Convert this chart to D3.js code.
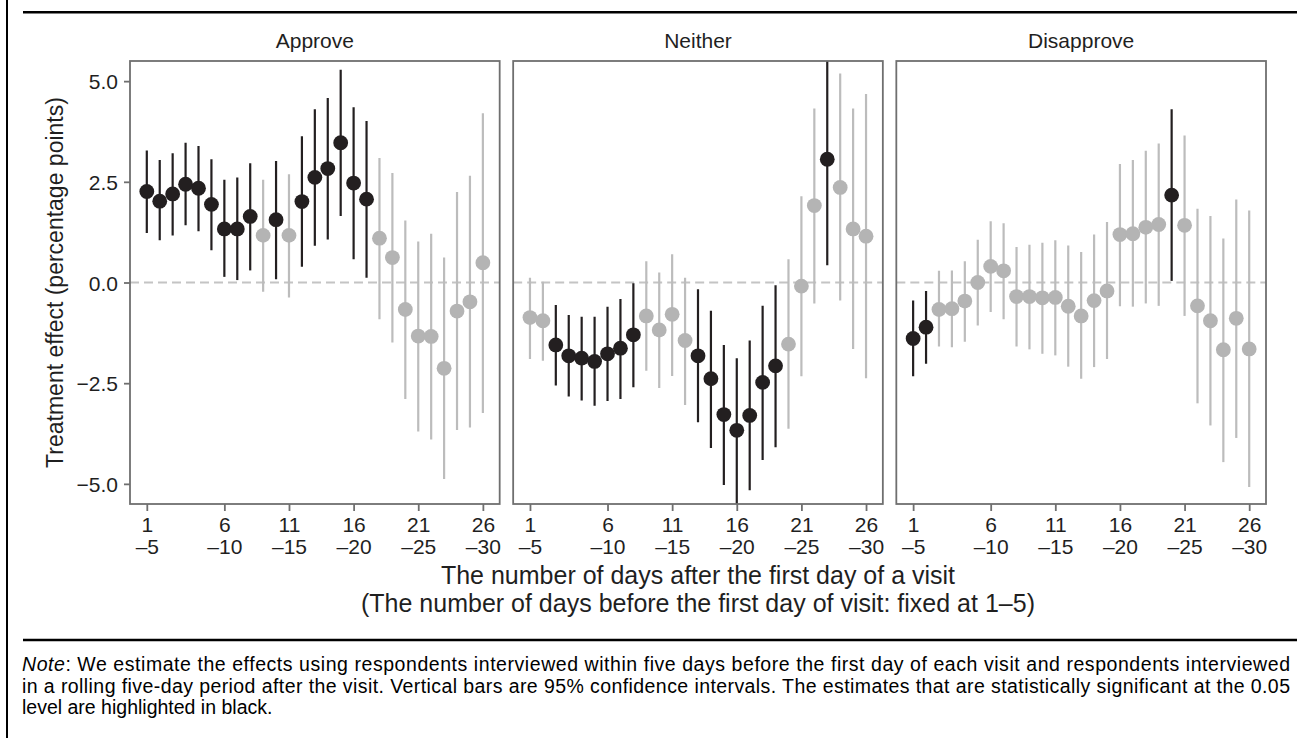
<!DOCTYPE html>
<html>
<head>
<meta charset="utf-8">
<script src="https://cdn.jsdelivr.net/npm/d3@7"></script>
<style>
  html, body { margin: 0; padding: 0; background: #ffffff; }
  svg { display: block; font-family: "Liberation Sans", Arial, Helvetica, sans-serif; }
</style>
</head>
<body>
<svg id="chart" width="1297" height="738"></svg>
<script>
// ---------- data ----------
const panels = ["Approve", "Neither", "Disapprove"];
const days = [0, 1, 2, 3, 4, 5, 6, 7, 8, 9, 10, 11, 12, 13, 14, 15, 16, 17, 18, 19, 20, 21, 22, 23, 24, 25, 26];
const tickPositions = [0, 6, 11, 16, 21, 26];
const tickTop = ["1", "6", "11", "16", "21", "26"];
const tickBottom = ["–5", "–10", "–15", "–20", "–25", "–30"];
const yTicks = [-5, -2.5, 0, 2.5, 5];

const approveEst = [2.26, 2.02, 2.20, 2.44, 2.34, 1.94, 1.33, 1.33, 1.64, 1.17, 1.56, 1.17, 2.01, 2.61, 2.83, 3.47, 2.47, 2.07, 1.10, 0.62, -0.67, -1.33, -1.34, -2.13, -0.71, -0.48, 0.49];
const approveLo  = [1.23, 1.05, 1.17, 1.42, 1.27, 0.80, 0.14, 0.06, 0.30, -0.23, 0.08, -0.37, 0.39, 0.91, 1.07, 1.65, 0.58, 0.12, -0.91, -1.49, -2.89, -3.70, -3.90, -4.88, -3.66, -3.60, -3.24];
const approveHi  = [3.28, 3.04, 3.21, 3.47, 3.39, 3.06, 2.55, 2.61, 2.96, 2.55, 3.02, 2.69, 3.63, 4.30, 4.58, 5.28, 4.35, 4.01, 3.09, 2.72, 1.54, 1.02, 1.21, 0.62, 2.25, 2.65, 4.20];
const approveSig = [1, 1, 1, 1, 1, 1, 1, 1, 1, 0, 1, 0, 1, 1, 1, 1, 1, 1, 0, 0, 0, 0, 0, 0, 0, 0, 0];

const neitherEst = [-0.87, -0.95, -1.55, -1.82, -1.88, -1.96, -1.77, -1.63, -1.30, -0.83, -1.18, -0.79, -1.44, -1.82, -2.39, -3.28, -3.67, -3.30, -2.48, -2.07, -1.53, -0.09, 1.91, 3.06, 2.36, 1.33, 1.15];
const neitherLo  = [-1.90, -1.94, -2.56, -2.83, -2.93, -3.06, -2.94, -2.89, -2.60, -2.19, -2.62, -2.32, -3.04, -3.47, -4.11, -5.03, -5.65, -5.16, -4.41, -4.09, -3.63, -2.33, -0.52, 0.43, -0.45, -1.65, -2.38];
const neitherHi  = [0.12, 0.02, -0.56, -0.81, -0.85, -0.85, -0.60, -0.41, -0.02, 0.53, 0.25, 0.70, 0.12, -0.17, -0.70, -1.55, -1.88, -1.44, -0.58, -0.07, 0.58, 2.14, 4.32, 5.70, 5.19, 4.32, 4.68];
const neitherSig = [0, 0, 1, 1, 1, 1, 1, 1, 1, 0, 0, 0, 0, 1, 1, 1, 1, 1, 1, 1, 0, 0, 0, 1, 0, 0, 0];

const disapproveEst = [-1.39, -1.11, -0.67, -0.65, -0.46, 0.00, 0.40, 0.29, -0.35, -0.35, -0.38, -0.37, -0.59, -0.83, -0.45, -0.21, 1.19, 1.21, 1.37, 1.44, 2.17, 1.42, -0.58, -0.95, -1.67, -0.89, -1.65];
const disapproveLo  = [-2.33, -2.02, -1.59, -1.61, -1.47, -1.07, -0.73, -0.91, -1.59, -1.66, -1.77, -1.81, -2.09, -2.39, -2.10, -1.90, -0.59, -0.60, -0.52, -0.58, 0.04, -0.83, -3.00, -3.55, -4.46, -3.86, -5.08];
const disapproveHi  = [-0.45, -0.21, 0.29, 0.30, 0.53, 1.06, 1.52, 1.47, 0.88, 0.94, 0.99, 1.05, 0.92, 0.76, 1.19, 1.50, 2.94, 3.04, 3.27, 3.45, 4.30, 3.65, 1.83, 1.65, 1.09, 2.06, 1.79];
const disapproveSig = [1, 1, 0, 0, 0, 0, 0, 0, 0, 0, 0, 0, 0, 0, 0, 0, 0, 0, 0, 0, 1, 0, 0, 0, 0, 0, 0];

const yTitle = "Treatment effect (percentage points)";
const xTitle1 = "The number of days after the first day of a visit";
const xTitle2 = "(The number of days before the first day of visit: fixed at 1–5)";
const noteLines = [
  ": We estimate the effects using respondents interviewed within five days before the first day of each visit and respondents interviewed",
  "in a rolling five-day period after the visit. Vertical bars are 95% confidence intervals. The estimates that are statistically significant at the 0.05",
  "level are highlighted in black."
];

// ---------- build table ----------
const series = {
  "Approve": [approveEst, approveLo, approveHi, approveSig],
  "Neither": [neitherEst, neitherLo, neitherHi, neitherSig],
  "Disapprove": [disapproveEst, disapproveLo, disapproveHi, disapproveSig]
};
const panelData = panels.map(p => ({
  name: p,
  rows: days.map((d, i) => ({ day: d, est: series[p][0][i], lo: series[p][1][i], hi: series[p][2][i], sig: series[p][3][i] }))
}));

// ---------- style ----------
const BLACK = "#231f20";
const GREY_DOT = "#b4b4b4";
const GREY_BAR = "#bcbcbc";
const BORDER = "#6f6f6f";
const TEXT = "#1f1f1f";

const svg = d3.select("#chart");

// frame lines
svg.append("line").attr("x1", 7).attr("x2", 7).attr("y1", 0).attr("y2", 738)
  .attr("stroke", "#000").attr("stroke-width", 2);
svg.append("line").attr("x1", 23).attr("x2", 1297).attr("y1", 12.3).attr("y2", 12.3)
  .attr("stroke", "#000").attr("stroke-width", 2.4);
svg.append("line").attr("x1", 23).attr("x2", 1297).attr("y1", 640).attr("y2", 640)
  .attr("stroke", "#000").attr("stroke-width", 2.4);

// scales
const panelBand = d3.scaleBand().domain(panels).range([130, 1266]).paddingInner(0.0352);
const y = d3.scaleLinear().domain([-5.5, 5.5]).range([504, 61]);

panelData.forEach((pd, pi) => {
  const x0 = panelBand(pd.name), bw = panelBand.bandwidth();
  const x = d3.scaleLinear().domain([-1.3, 27.3]).range([x0, x0 + bw]);
  const g = svg.append("g");

  const clipId = "clip" + pi;
  svg.append("clipPath").attr("id", clipId)
    .append("rect").attr("x", x0).attr("y", y(5.5)).attr("width", bw).attr("height", y(-5.5) - y(5.5));

  const plot = g.append("g").attr("clip-path", `url(#${clipId})`);

  // zero line
  plot.append("line")
    .attr("x1", x0).attr("x2", x0 + bw).attr("y1", y(0)).attr("y2", y(0))
    .attr("stroke", "#c4c4c4").attr("stroke-width", 2).attr("stroke-dasharray", "9,5");

  // error bars (grey first, black on top)
  const ordered = pd.rows.slice().sort((a, b) => a.sig - b.sig);
  plot.selectAll("line.ci").data(ordered).join("line").attr("class", "ci")
    .attr("x1", d => x(d.day)).attr("x2", d => x(d.day))
    .attr("y1", d => y(d.lo)).attr("y2", d => y(d.hi))
    .attr("stroke", d => d.sig ? BLACK : GREY_BAR).attr("stroke-width", 2.2);

  plot.selectAll("circle").data(ordered).join("circle")
    .attr("cx", d => x(d.day)).attr("cy", d => y(d.est)).attr("r", 7.4)
    .attr("fill", d => d.sig ? BLACK : GREY_DOT);

  // border
  g.append("rect").attr("x", x0).attr("y", y(5.5)).attr("width", bw).attr("height", y(-5.5) - y(5.5))
    .attr("fill", "none").attr("stroke", BORDER).attr("stroke-width", 1.8);

  // strip label
  g.append("text").attr("x", x0 + bw / 2).attr("y", 48.3).attr("text-anchor", "middle")
    .attr("font-size", 21).attr("fill", TEXT).text(pd.name);

  // x axis
  const xa = g.append("g").attr("transform", `translate(0,${y(-5.5)})`)
    .call(d3.axisBottom(x).tickValues(tickPositions).tickSize(7).tickSizeOuter(0).tickFormat(""));
  xa.select(".domain").remove();
  xa.selectAll(".tick line").attr("stroke", BORDER).attr("stroke-width", 1.8);
  xa.selectAll(".tick").each(function (d, i) {
    const t = d3.select(this).append("text").attr("fill", TEXT).attr("font-size", 21)
      .attr("text-anchor", "middle");
    t.append("tspan").attr("x", 0).attr("y", 27.7).text(tickTop[i]);
    t.append("tspan").attr("x", 0).attr("y", 50).text(tickBottom[i]);
  });

  // y axis on first panel
  if (pi === 0) {
    const ya = g.append("g").attr("transform", `translate(${x0},0)`)
      .call(d3.axisLeft(y).tickValues(yTicks).tickSize(6).tickSizeOuter(0).tickPadding(6).tickFormat(d3.format(".1f")));
    ya.select(".domain").remove();
    ya.selectAll(".tick line").attr("stroke", BORDER).attr("stroke-width", 1.8);
    ya.selectAll(".tick text").attr("font-size", 21).attr("fill", TEXT)
      .attr("font-family", "Liberation Sans, Arial, sans-serif").attr("dy", "0.36em");
  }
});

// axis titles
svg.append("text").attr("transform", `translate(63,${y(0)}) rotate(-90)`)
  .attr("text-anchor", "middle").attr("font-size", 23).attr("fill", TEXT).text(yTitle);

const xc = (panelBand("Approve") + panelBand("Disapprove") + panelBand.bandwidth()) / 2;
svg.append("text").attr("x", xc).attr("y", 584).attr("text-anchor", "middle")
  .attr("font-size", 25).attr("fill", TEXT).text(xTitle1);
svg.append("text").attr("x", xc).attr("y", 612).attr("text-anchor", "middle")
  .attr("font-size", 25).attr("fill", TEXT).text(xTitle2);

// note
const note = svg.append("g").attr("font-size", 19.5).attr("fill", "#000");
const n1 = note.append("text").attr("x", 22).attr("y", 671)
  .attr("textLength", 1268).attr("lengthAdjust", "spacing");
n1.append("tspan").attr("font-style", "italic").text("Note");
n1.append("tspan").text(noteLines[0]);
note.append("text").attr("x", 22).attr("y", 692.7)
  .attr("textLength", 1268).attr("lengthAdjust", "spacing").text(noteLines[1]);
note.append("text").attr("x", 22).attr("y", 714).text(noteLines[2]);
</script>
</body>
</html>
